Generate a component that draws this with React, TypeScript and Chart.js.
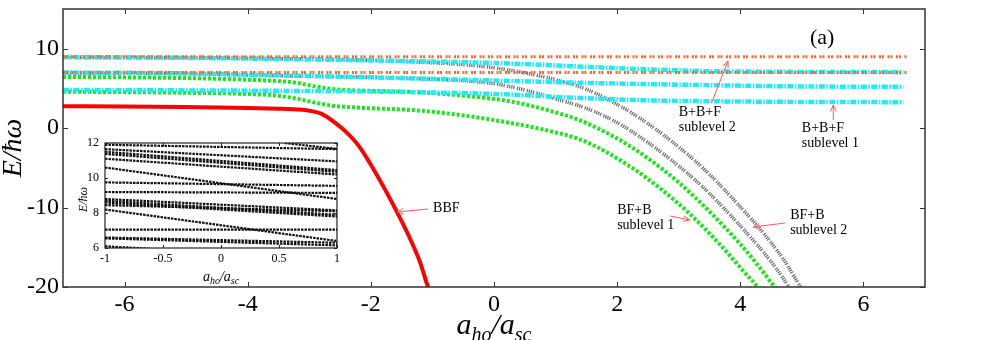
import React, { useEffect, useRef } from "react";
import { Chart, registerables } from "chart.js";
Chart.register(...registerables);

// ---------- axis ticks ----------
const xTicks = [-6, -4, -2, 0, 2, 4, 6];
const yTicks = [-20, -10, 0, 10];
const insetXTicks = [-1, -0.5, 0, 0.5, 1];
const insetYTicks = [6, 8, 10, 12];

// ---------- main series ----------
const redX = [-7, -6, -5, -4, -3.5, -3.2, -3.0, -2.8, -2.6, -2.4, -2.2, -2.0, -1.8, -1.6, -1.4, -1.2, -1.07, -1.0];
const redY = [2.75, 2.72, 2.66, 2.55, 2.45, 2.35, 2.2, 1.8, 0.8, -0.5, -2.2, -4.6, -7.3, -10.2, -13.3, -16.9, -20, -21];

const orange9X = [-7, 6.7];
const orange9Y = [9, 9];
const orange7X = [-7, 6.7];
const orange7Y = [7, 7];

const cyanTopX = [-7, -5, -3.5, -1.5, 0, 1, 2, 3.35, 4.5, 6.65];
const cyanTopY = [8.95, 8.85, 8.7, 8.45, 8.2, 7.9, 7.55, 7.2, 7.1, 7.05];
const cyanMidX = [-7, -5, -3.5, -2, -1.5, 0, 1.5, 3.35, 5, 6.65];
const cyanMidY = [7.0, 6.9, 6.65, 6.4, 6.3, 6.0, 5.7, 5.43, 5.25, 5.2];
const cyanLowX = [-7, -3.5, -1.5, 0, 1.4, 2.5, 3.35, 5, 6.65];
const cyanLowY = [4.8, 4.7, 4.55, 4.3, 3.8, 3.5, 3.4, 3.3, 3.27];

const grayUpX = [-7, -4, -2, -1.5, -0.5, 0, 0.47, 1.0, 1.5, 2.0, 2.37, 2.86, 3.39, 4.0, 4.5, 4.76, 4.98, 5.08];
const grayUpY = [8.9, 8.8, 8.55, 8.4, 8.0, 7.6, 7.0, 6.1, 4.9, 3.0, 1.25, -1.5, -5.0, -9.9, -14.4, -17.2, -20, -21];
const grayLowX = [-7, -5, -3.5, -2, -1.5, 0, 0.5, 1.0, 1.5, 2.0, 2.37, 2.86, 3.39, 4.0, 4.5, 4.78, 4.86];
const grayLowY = [6.95, 6.85, 6.6, 6.4, 6.3, 5.6, 4.8, 3.7, 2.5, 0.7, -1.1, -3.9, -7.4, -12.3, -16.8, -19.9, -21];

const greenUpX = [-7, -5, -4, -3.5, -3.2, -2.95, -2.7, -2.41, -2, -1.32, -0.5, 0.31, 0.9, 1.39, 2.0, 2.5, 3.0, 3.5, 4.0, 4.3, 4.55, 4.62];
const greenUpY = [6.45, 6.3, 6.1, 5.92, 5.7, 5.33, 5.0, 4.8, 4.7, 4.55, 4.1, 3.3, 2.2, 1.0, -1.3, -3.8, -6.85, -10.5, -14.6, -17.4, -19.9, -20.5];
const greenLowX = [-7, -5, -4, -3.5, -3.2, -2.9, -2.6, -2.41, -2, -1.32, -0.5, 0.31, 0.9, 1.39, 1.8, 2.3, 2.75, 3.18, 3.7, 4.05, 4.3, 4.37];
const greenLowY = [4.6, 4.45, 4.3, 4.07, 3.7, 3.2, 2.8, 2.68, 2.5, 2.27, 1.6, 0.59, -0.35, -1.4, -2.9, -5.3, -7.9, -10.8, -14.9, -18.0, -20.2, -21];

// ---------- inset series (straight levels) ----------
const insetStartX = [-1, -1, -1, -1, -1, -1, -1, -1, -1, -1, -1, -1, -1, -1, -1, -1, -1, 0.55];
const insetStartY = [11.9, 11.65, 11.5, 11.38, 11.1, 10.6, 9.75, 9.2, 8.8, 8.7, 8.6, 8.45, 8.2, 7.05, 6.6, 6.55, 6.1, 12.0];
const insetEndX = [1, 1, 1, 1, 1, 1, 1, 1, 1, 1, 1, 1, 1, 1, 1, 1, -0.6, 1];
const insetEndY = [11.65, 10.95, 10.45, 10.35, 10.2, 8.8, 9.55, 9.15, 8.15, 7.9, 7.8, 8.1, 6.4, 7.05, 6.3, 6.15, 5.95, 11.66];

// ---------- annotations (data coordinates) ----------
const noteText = [["BBF"], ["BF+B", "sublevel 1"], ["BF+B", "sublevel 2"], ["B+B+F", "sublevel 2"], ["B+B+F", "sublevel 1"]];
const noteX = [-0.99, 2.0, 4.81, 3.0, 5.0];
const noteY = [-10.05, -10.3, -10.93, 2.03, 0.02];
const arrowTailX = [-1.07, 2.86, 4.73, 3.54, 5.51];
const arrowTailY = [-10.18, -11.06, -11.94, 3.29, 1.03];
const arrowTipX = [-1.575, 3.18, 4.21, 3.8, 5.51];
const arrowTipY = [-10.56, -11.56, -12.45, 8.45, 2.91];

const pts = (xs: number[], ys: number[]) => xs.map((x, i) => ({ x, y: ys[i] }));
const SERIF = "'Liberation Serif', 'Times New Roman', serif";
Chart.defaults.font.family = SERIF;

function drawSubTitle(ctx: CanvasRenderingContext2D, cx: number, baseY: number, big: number, small: number, drop: number) {
  const parts: [string, boolean][] = [["a", true], ["ho", false], ["/", true], ["a", true], ["sc", false]];
  const fontFor = (b: boolean) => `italic ${b ? big : small}px ${SERIF}`;
  let total = 0;
  parts.forEach(([t, b]) => { ctx.font = fontFor(b); total += ctx.measureText(t).width; });
  let xx = cx - total / 2;
  ctx.textAlign = "left";
  ctx.textBaseline = "alphabetic";
  parts.forEach(([t, b]) => {
    ctx.font = fontFor(b);
    ctx.fillText(t, xx, b ? baseY : baseY + drop);
    xx += ctx.measureText(t).width;
  });
}

const noPad = (s: any) => { s.paddingTop = 0; s.paddingBottom = 0; s.paddingLeft = 0; s.paddingRight = 0; };

const mainDecor = {
  id: "mainDecor",
  afterDraw(chart: any) {
    const { ctx, chartArea: a, scales } = chart;
    const sx = scales.x, sy = scales.y;
    ctx.save();
    ctx.strokeStyle = "#333";
    ctx.lineWidth = 1.5;
    ctx.strokeRect(a.left, a.top, a.right - a.left, a.bottom - a.top);
    ctx.lineWidth = 1;
    ctx.beginPath();
    xTicks.forEach((v) => {
      const p = Math.round(sx.getPixelForValue(v)) + 0.5;
      ctx.moveTo(p, a.bottom); ctx.lineTo(p, a.bottom - 5);
      ctx.moveTo(p, a.top); ctx.lineTo(p, a.top + 5);
    });
    yTicks.forEach((v) => {
      const p = Math.round(sy.getPixelForValue(v)) + 0.5;
      ctx.moveTo(a.left, p); ctx.lineTo(a.left + 5, p);
      ctx.moveTo(a.right, p); ctx.lineTo(a.right - 5, p);
    });
    ctx.stroke();

    ctx.fillStyle = "#000";
    drawSubTitle(ctx, (a.left + a.right) / 2, 334, 30, 20, 7);

    ctx.save();
    ctx.translate(14, (a.top + a.bottom) / 2);
    ctx.rotate(-Math.PI / 2);
    ctx.font = `italic 28px ${SERIF}`;
    ctx.textAlign = "center";
    ctx.textBaseline = "middle";
    ctx.fillText("E/\u0127\u03c9", 0, 0);
    ctx.restore();

    ctx.font = `22px ${SERIF}`;
    ctx.textAlign = "center";
    ctx.textBaseline = "middle";
    ctx.fillText("(a)", sx.getPixelForValue(5.33), sy.getPixelForValue(11.35));

    ctx.font = `14px ${SERIF}`;
    ctx.textAlign = "left";
    noteText.forEach((lines, i) => {
      const px = sx.getPixelForValue(noteX[i]);
      const py = sy.getPixelForValue(noteY[i]);
      lines.forEach((t, j) => ctx.fillText(t, px, py + j * 15.5));
    });

    ctx.strokeStyle = "#ff5a5a";
    ctx.lineWidth = 1;
    arrowTailX.forEach((_, i) => {
      const x0 = sx.getPixelForValue(arrowTailX[i]), y0 = sy.getPixelForValue(arrowTailY[i]);
      const x1 = sx.getPixelForValue(arrowTipX[i]), y1 = sy.getPixelForValue(arrowTipY[i]);
      const ang = Math.atan2(y1 - y0, x1 - x0);
      ctx.beginPath();
      ctx.moveTo(x0, y0); ctx.lineTo(x1, y1);
      const L = 7, w = 0.4;
      ctx.moveTo(x1 - L * Math.cos(ang - w), y1 - L * Math.sin(ang - w));
      ctx.lineTo(x1, y1);
      ctx.lineTo(x1 - L * Math.cos(ang + w), y1 - L * Math.sin(ang + w));
      ctx.stroke();
    });
    ctx.restore();
  },
};

const insetDecor = {
  id: "insetDecor",
  afterDraw(chart: any) {
    const { ctx, chartArea: a, scales } = chart;
    const sx = scales.x, sy = scales.y;
    ctx.save();
    ctx.strokeStyle = "#222";
    ctx.lineWidth = 1.2;
    ctx.strokeRect(a.left, a.top, a.right - a.left, a.bottom - a.top);
    ctx.lineWidth = 1;
    ctx.beginPath();
    insetXTicks.forEach((v) => {
      const p = Math.round(sx.getPixelForValue(v)) + 0.5;
      ctx.moveTo(p, a.bottom); ctx.lineTo(p, a.bottom - 3);
      ctx.moveTo(p, a.top); ctx.lineTo(p, a.top + 3);
    });
    insetYTicks.forEach((v) => {
      const p = Math.round(sy.getPixelForValue(v)) + 0.5;
      ctx.moveTo(a.left, p); ctx.lineTo(a.left + 3, p);
      ctx.moveTo(a.right, p); ctx.lineTo(a.right - 3, p);
    });
    ctx.stroke();
    ctx.fillStyle = "#000";
    drawSubTitle(ctx, (a.left + a.right) / 2, 143, 14, 10, 3);
    ctx.save();
    ctx.translate(18, (a.top + a.bottom) / 2 + 4);
    ctx.rotate(-Math.PI / 2);
    ctx.font = `italic 12px ${SERIF}`;
    ctx.textAlign = "center";
    ctx.textBaseline = "middle";
    ctx.fillText("E/\u0127\u03c9", 0, 0);
    ctx.restore();
    ctx.restore();
  },
};

export default function App() {
  const mainRef = useRef<HTMLCanvasElement>(null);
  const insetRef = useRef<HTMLCanvasElement>(null);

  useEffect(() => {
    const line = (data: any[], color: string, width: number, dash: number[]) => ({
      data,
      showLine: true,
      borderColor: color,
      backgroundColor: color,
      borderWidth: width,
      borderDash: dash,
      pointRadius: 0,
      fill: false,
      cubicInterpolationMode: "monotone" as const,
      borderCapStyle: "butt" as const,
    });
    const grayDash = [1.3, 0.9, 1.3, 0.9, 1.3, 0.9, 1.3, 2.2];

    const main = new Chart(mainRef.current!, {
      type: "scatter",
      data: {
        datasets: [
          line(pts(redX, redY), "#ff0000", 4, []),
          line(pts(orange9X, orange9Y), "#ff6633", 3, [2, 1, 2, 3.5]),
          line(pts(orange7X, orange7Y), "#ff6633", 3, [2, 1, 2, 3.5]),
          line(pts(cyanTopX, cyanTopY), "#22eaf8", 4.5, [6, 1.5, 1.5, 1.5]),
          line(pts(cyanMidX, cyanMidY), "#22eaf8", 4.5, [6, 1.5, 1.5, 1.5]),
          line(pts(cyanLowX, cyanLowY), "#22eaf8", 4.5, [6, 1.5, 1.5, 1.5]),
          line(pts(grayUpX, grayUpY), "#747474", 3.6, grayDash),
          line(pts(grayLowX, grayLowY), "#747474", 3.6, grayDash),
          line(pts(greenUpX, greenUpY), "#1ee61e", 4, [3, 2]),
          line(pts(greenLowX, greenLowY), "#1ee61e", 4, [3, 2]),
        ],
      },
      options: {
        responsive: false,
        animation: false,
        devicePixelRatio: 1,
        layout: { padding: { left: 0, top: 9, right: 56, bottom: 0 } },
        plugins: { legend: { display: false }, tooltip: { enabled: false } },
        scales: {
          x: {
            type: "linear",
            min: -7,
            max: 7,
            afterBuildTicks: (ax: any) => { ax.ticks = xTicks.map((v) => ({ value: v })); },
            afterFit: (s: any) => { s.height = 53; noPad(s); },
            grid: { display: false, drawTicks: false },
            border: { display: false },
            ticks: { color: "#000", padding: 3, font: { family: SERIF, size: 24 }, maxRotation: 0 },
          },
          y: {
            type: "linear",
            min: -20,
            max: 15,
            afterBuildTicks: (ax: any) => { ax.ticks = yTicks.map((v) => ({ value: v })); },
            afterFit: (s: any) => { s.width = 63; noPad(s); },
            grid: { display: false, drawTicks: false },
            border: { display: false },
            ticks: { color: "#000", padding: 4, font: { family: SERIF, size: 24 } },
          },
        },
      },
      plugins: [mainDecor],
    });

    const insetSets = insetStartX.map((_, i) =>
      line(
        [
          { x: insetStartX[i], y: insetStartY[i] },
          { x: insetEndX[i], y: insetEndY[i] },
        ],
        "#111111",
        2.2,
        [2.5, 1]
      )
    );

    const inset = new Chart(insetRef.current!, {
      type: "scatter",
      data: { datasets: insetSets },
      options: {
        responsive: false,
        animation: false,
        devicePixelRatio: 1,
        layout: { padding: { left: 0, top: 5, right: 9, bottom: 0 } },
        plugins: { legend: { display: false }, tooltip: { enabled: false } },
        scales: {
          x: {
            type: "linear",
            min: -1,
            max: 1,
            afterBuildTicks: (ax: any) => { ax.ticks = insetXTicks.map((v) => ({ value: v })); },
            afterFit: (s: any) => { s.height = 40; noPad(s); },
            grid: { display: false, drawTicks: false },
            border: { display: false },
            ticks: { color: "#000", padding: 4, font: { family: SERIF, size: 12 }, maxRotation: 0, callback: (v: any) => String(v) },
          },
          y: {
            type: "linear",
            min: 6,
            max: 12,
            afterBuildTicks: (ax: any) => { ax.ticks = insetYTicks.map((v) => ({ value: v })); },
            afterFit: (s: any) => { s.width = 39; noPad(s); },
            grid: { display: false, drawTicks: false },
            border: { display: false },
            ticks: { color: "#000", padding: 6, font: { family: SERIF, size: 12 }, callback: (v: any) => String(v) },
          },
        },
      },
      plugins: [insetDecor],
    });

    return () => {
      main.destroy();
      inset.destroy();
    };
  }, []);

  return (
    <div style={{ position: "absolute", left: 0, top: 0, width: 981, height: 340, background: "#fff", overflow: "hidden" }}>
      <canvas ref={mainRef} width={981} height={340} style={{ position: "absolute", left: 0, top: 0, display: "block" }} />
      <canvas ref={insetRef} width={280} height={150} style={{ position: "absolute", left: 66, top: 138, display: "block" }} />
    </div>
  );
}
